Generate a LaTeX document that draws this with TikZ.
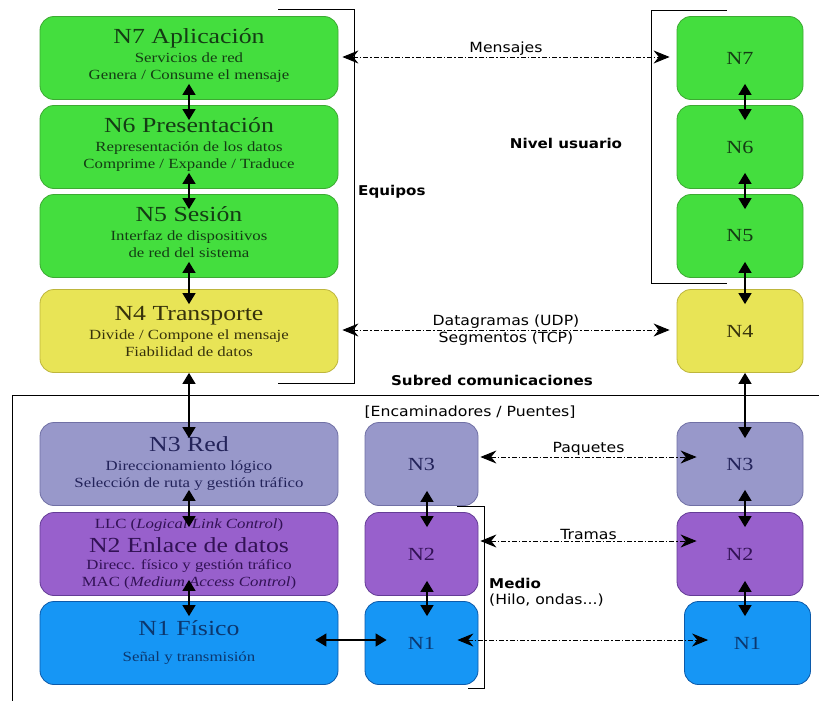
\documentclass[tikz,border=0pt]{standalone}
\usepackage{fontspec}
\setmainfont[FakeStretch=1.2]{Liberation Serif}
\setsansfont[FakeStretch=1.12]{DejaVu Sans}
\usetikzlibrary{arrows.meta}
\definecolor{verde}{RGB}{68,222,62}
\definecolor{verdeb}{RGB}{60,170,50}
\definecolor{verdet}{RGB}{20,60,20}
\definecolor{amarillo}{RGB}{232,228,86}
\definecolor{amarillob}{RGB}{190,182,60}
\definecolor{amarillot}{RGB}{55,50,12}
\definecolor{lila}{RGB}{152,152,202}
\definecolor{lilab}{RGB}{112,112,165}
\definecolor{lilat}{RGB}{35,35,90}
\definecolor{morado}{RGB}{152,96,204}
\definecolor{moradob}{RGB}{100,60,150}
\definecolor{moradot}{RGB}{50,18,85}
\definecolor{azul}{RGB}{22,150,245}
\definecolor{azulb}{RGB}{12,90,170}
\definecolor{azult}{RGB}{12,55,110}
\newcommand\nivtit{\fontsize{21.5}{23}\selectfont}
\tikzset{capa/.style={draw,rounded corners=14pt,line width=0.8pt,inner sep=0pt,align=center,
                      font=\fontsize{14}{17}\selectfont},
         ancha/.style={capa,minimum width=298pt,minimum height=83pt},
         media/.style={capa,minimum width=113pt,minimum height=83pt,font=\fontsize{18.5}{20}\selectfont},
         estrecha/.style={capa,minimum width=126pt,minimum height=83pt,font=\fontsize{18.5}{20}\selectfont},
         verdes/.style={fill=verde,draw=verdeb,text=verdet},
         amarillas/.style={fill=amarillo,draw=amarillob,text=amarillot},
         lilas/.style={fill=lila,draw=lilab,text=lilat},
         moradas/.style={fill=morado,draw=moradob,text=moradot},
         azules/.style={fill=azul,draw=azulb,text=azult},
         doble/.style={{Triangle[width=13pt,length=11pt]}-{Triangle[width=13pt,length=11pt]},line width=1.3pt},
         punteada/.style={{Stealth[width=13pt,length=16pt]}-{Stealth[width=13pt,length=16pt]},
                          line width=0.9pt,dash pattern=on 5pt off 2pt on 1.5pt off 2pt},
         etiq/.style={font=\sffamily\fontsize{14}{16}\selectfont,inner sep=1pt},
         etiqn/.style={etiq,font=\sffamily\bfseries\fontsize{13.5}{16}\selectfont}}
\begin{document}
\begin{tikzpicture}[x=1pt,y=-1pt]
    \useasboundingbox[fill=white] (0,0) rectangle (819,701);
    \node[ancha,verdes] (a7) at (189,58)
        {{\nivtit N7 Aplicación}\\[2pt] Servicios de red\\ Genera / Consume el mensaje\\[-9pt]};
    \node[ancha,verdes] (a6) at (189,147)
        {{\nivtit N6 Presentación}\\[2pt] Representación de los datos\\ Comprime / Expande / Traduce\\[-9pt]};
    \node[ancha,verdes] (a5) at (189,236)
        {{\nivtit N5 Sesión}\\[2pt] Interfaz de dispositivos\\ de red del sistema\\[-9pt]};
    \node[ancha,amarillas] (a4) at (189,331)
        {{\nivtit N4 Transporte}\\[2pt] Divide / Compone el mensaje\\ Fiabilidad de datos};
    \node[ancha,lilas] (a3) at (189,464)
        {{\nivtit N3 Red}\\[2pt] Direccionamiento lógico\\ Selección de ruta y gestión tráfico};
    \node[ancha,moradas] (a2) at (189,554)
        {LLC (\textit{Logical Link Control})\\[5pt] {\nivtit N2 Enlace de datos}\\ Direcc. físico y gestión tráfico\\
         MAC (\textit{Medium Access Control})};
    \node[ancha,azules] (a1) at (189,643)
        {{\nivtit N1 Físico}\\[9pt] Señal y transmisión};

    \node[media,lilas] (m3) at (421.5,464) {N3};
    \node[media,moradas] (m2) at (421.5,554) {N2};
    \node[media,azules] (m1) at (421.5,643) {N1};

    \node[estrecha,verdes] (r7) at (740,58) {N7};
    \node[estrecha,verdes] (r6) at (740,147) {N6};
    \node[estrecha,verdes] (r5) at (740,236) {N5};
    \node[estrecha,amarillas] (r4) at (740,331) {N4};
    \node[estrecha,lilas] (r3) at (740,464) {N3};
    \node[estrecha,moradas] (r2) at (740,554) {N2};
    \node[estrecha,azules] (r1) at (747.5,643) {N1};

    \foreach \s/\t in {a7/a6,a6/a5,a5/a4,a3/a2,a2/a1}
        \draw[doble] ([yshift=16pt]\s.south) -- ([yshift=-15pt]\t.north);
    \draw[doble] (a4.south) -- ([yshift=-16pt]a3.north);
    \foreach \s/\t in {m3/m2,m2/m1}
        \draw[doble] ([xshift=5.5pt,yshift=15pt]\s.south) -- ([xshift=5.5pt,yshift=-15pt]\t.north);
    \foreach \s/\t in {r7/r6,r6/r5,r5/r4,r3/r2}
        \draw[doble] ([xshift=5pt,yshift=16pt]\s.south) -- ([xshift=5pt,yshift=-15pt]\t.north);
    \draw[doble] ([xshift=5pt]r4.south) -- ([xshift=5pt,yshift=-16pt]r3.north);
    \draw[doble] ([xshift=5pt,yshift=15pt]r2.south) -- ([xshift=-2.5pt,yshift=-15pt]r1.north);

    \draw[punteada] ([xshift=4pt,yshift=1pt]a7.east) -- node[above,etiq] {Mensajes}
        ([xshift=-7pt,yshift=1pt]r7.west);
    \draw[punteada] ([xshift=4pt,yshift=1pt]a4.east) --
        node[above,etiq] {Datagramas (UDP)} node[below,etiq] {Segmentos (TCP)}
        ([xshift=-7pt,yshift=1pt]r4.west);
    \draw[punteada] ([xshift=2pt,yshift=7pt]m3.east) -- node[above,etiq] {Paquetes}
        ([xshift=20pt,yshift=7pt]r3.west);
    \draw[punteada] ([xshift=2pt,yshift=13pt]m2.east) -- node[above,etiq] {Tramas}
        ([xshift=20pt,yshift=13pt]r2.west);
    \draw[punteada] ([xshift=-21pt,yshift=3pt]m1.east) -- ([xshift=24pt,yshift=3pt]r1.west);
    \draw[doble] ([xshift=-23pt,yshift=3pt]a1.east) -- ([xshift=22pt,yshift=3pt]m1.west);

    \draw[line width=1pt] (278,10) -| (354,383) -- (278,383);
    \draw[line width=1pt] (727,11) -| (651,283) -- (727,283);
    \draw[line width=1pt] (457,506) -| (484,688) -- (468,688);
    \draw[line width=1pt] (12,701) |- (819,395);

    \node[etiqn,anchor=west] (equipos) at (357,192) {Equipos};
    \node[etiqn] (usuario) at (566,143) {Nivel usuario};
    \node[etiqn] (subred) at (492,380) {Subred comunicaciones};
    \node[etiq] (encam) at (470,412) {[Encaminadores / Puentes]};
    \node[etiqn,anchor=west] (medio) at (488,583) {Medio};
    \node[etiq,anchor=west] (hilo) at (488,600) {(Hilo, ondas...)};
\end{tikzpicture}
\end{document}
